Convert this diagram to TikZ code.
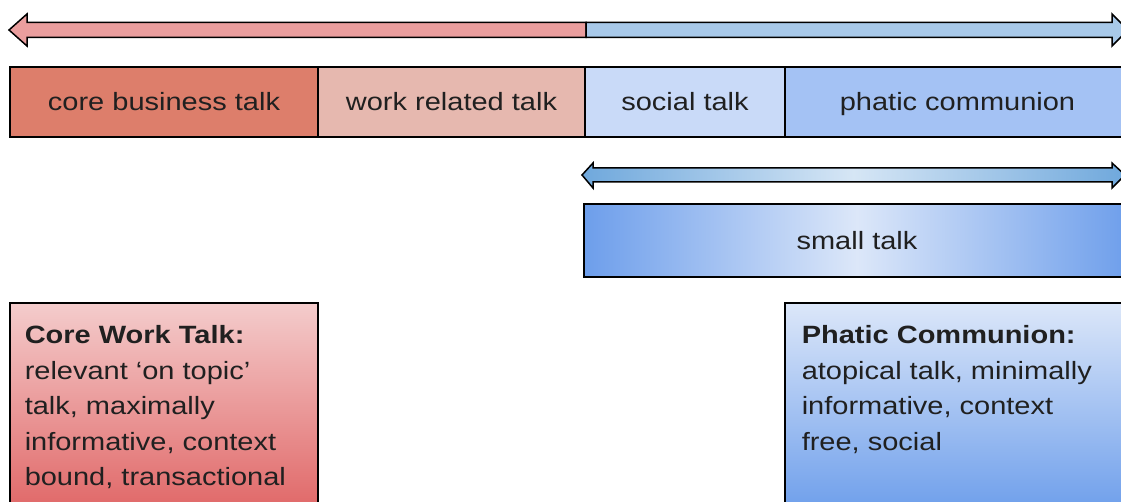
\documentclass[tikz,border=0pt]{standalone}
\usepackage{fontspec}
\setmainfont{Liberation Sans}[FakeStretch=1.16]
\usetikzlibrary{positioning}
\definecolor{corered}{HTML}{DD7E6B}
\definecolor{workred}{HTML}{E6B8AF}
\definecolor{socialblue}{HTML}{C9DAF8}
\definecolor{phaticblue}{HTML}{A4C2F4}
\definecolor{arrowred}{HTML}{EA9E9E}
\definecolor{arrowblue}{HTML}{A8C9E9}
\definecolor{deepblue}{HTML}{6D9EEB}
\definecolor{paleblue}{HTML}{DCE7F9}
\definecolor{skyblue}{HTML}{6FA8DC}
\definecolor{palesky}{HTML}{D6E6F5}
\definecolor{palered}{HTML}{F4CCCC}
\definecolor{deepred}{HTML}{E06666}
\definecolor{ink}{HTML}{202020}

\begin{document}
\begin{tikzpicture}[x=1pt,y=-1pt,line width=1.5pt,
 font=\fontsize{25}{35.5}\selectfont,text=ink,
 talk/.style={draw,outer sep=0pt,inner sep=0pt,minimum height=70pt,text height=18pt,text depth=0pt},
 descbox/.style={draw,outer sep=0pt,minimum height=210pt,anchor=north west},
 desc/.style={align=left,inner sep=0pt,anchor=north west}]
 \useasboundingbox (0,0) rectangle (1121,502);
 \clip (0,0) rectangle (1121,502);
 % top scale: work talk <-> social talk
 \draw[fill=arrowred] (586,22.5) -- (27,22.5) -- (27,14) -- (9,30) -- (27,46) -- (27,37.5) -- (586,37.5) -- cycle;
 \draw[fill=arrowblue] (586,22.5) -- (1112,22.5) -- (1112,14) -- (1128,30) -- (1112,46) -- (1112,37.5) -- (586,37.5) -- cycle;
 % kinds of talk
 \node[talk,fill=corered,minimum width=308pt,anchor=west] (core) at (10,102) {core business talk};
 \node[talk,fill=workred,minimum width=267pt,right=0pt of core] (work) {work related talk};
 \node[talk,fill=socialblue,minimum width=200pt,right=0pt of work] (social) {social talk};
 \node[talk,fill=phaticblue,minimum width=345pt,right=0pt of social] (phatic) {phatic communion};
 % small talk range
 \draw[left color=skyblue,right color=skyblue,middle color=palesky] (582,175) -- (593,163) -- (593,168) -- (1112,168) -- (1112,163) -- (1125,175) -- (1112,188) -- (1112,182) -- (593,182) -- (593,188) -- cycle;
 \node[talk,left color=deepblue,right color=deepblue,middle color=paleblue,minimum width=546pt,minimum height=73pt,anchor=north west] (small) at (584,204) {small talk};
 % descriptions
 \node[descbox,top color=palered,bottom color=deepred,minimum width=308pt] (cwt) at (10,303) {};
 \node[desc] (cwtext) at ([xshift=14pt,yshift=-22pt]cwt.north west)
  {\textbf{Core Work Talk:}\\relevant ‘on topic’\\talk, maximally\\informative, context\\bound, transactional};
 \node[descbox,top color=paleblue,bottom color=deepblue,minimum width=345pt] (pc) at (785,303) {};
 \node[desc] (pctext) at ([xshift=16pt,yshift=-22pt]pc.north west)
  {\textbf{Phatic Communion:}\\atopical talk, minimally\\informative, context\\free, social};
\end{tikzpicture}
\end{document}
